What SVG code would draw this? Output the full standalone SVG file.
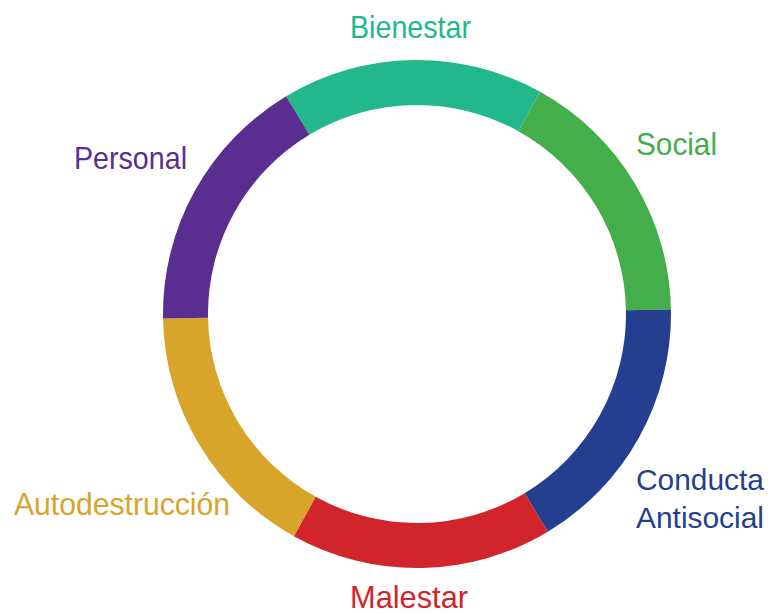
<svg xmlns="http://www.w3.org/2000/svg" width="768" height="614" viewBox="0 0 768 614">
<style>
text{font-family:"Liberation Sans",Arial,sans-serif;font-size:32px;}
.r{font-size:30px;}
</style>
<rect width="768" height="614" fill="#ffffff"/>
<g id="bienestar">
<path d="M286.18,96.28 A254,254 0 0 1 540.14,91.85 L518.33,131.20 A209,209 0 0 0 309.36,134.85 Z" fill="#22B88C"/>
<text x="350" y="38" fill="#22B88C" textLength="121" lengthAdjust="spacingAndGlyphs">Bienestar</text>
</g>
<g id="social">
<path d="M540.14,91.85 A254,254 0 0 1 670.96,309.57 L625.97,310.35 A209,209 0 0 0 518.33,131.20 Z" fill="#43AE4A"/>
<text x="636" y="155" fill="#43AE4A" textLength="81" lengthAdjust="spacingAndGlyphs">Social</text>
</g>
<g id="conducta-antisocial">
<path d="M670.96,309.57 A254,254 0 0 1 547.82,531.72 L524.64,493.15 A209,209 0 0 0 625.97,310.35 Z" fill="#243F8F"/>
<text class="r" x="636" y="490" fill="#243F8F" textLength="128" lengthAdjust="spacingAndGlyphs">Conducta</text>
<text class="r" x="636" y="528" fill="#243F8F" textLength="128" lengthAdjust="spacingAndGlyphs">Antisocial</text>
</g>
<g id="malestar">
<path d="M547.82,531.72 A254,254 0 0 1 293.86,536.15 L315.67,496.80 A209,209 0 0 0 524.64,493.15 Z" fill="#D1242B"/>
<text x="350" y="608" fill="#D1242B" textLength="118" lengthAdjust="spacingAndGlyphs">Malestar</text>
</g>
<g id="autodestruccion">
<path d="M293.86,536.15 A254,254 0 0 1 163.04,318.43 L208.03,317.65 A209,209 0 0 0 315.67,496.80 Z" fill="#D8A42A"/>
<text x="14" y="515" fill="#D8A42A" textLength="216" lengthAdjust="spacingAndGlyphs">Autodestrucción</text>
</g>
<g id="personal">
<path d="M163.04,318.43 A254,254 0 0 1 286.18,96.28 L309.36,134.85 A209,209 0 0 0 208.03,317.65 Z" fill="#5A2D91"/>
<text x="74" y="169" fill="#5A2D91" textLength="113" lengthAdjust="spacingAndGlyphs">Personal</text>
</g>
</svg>
